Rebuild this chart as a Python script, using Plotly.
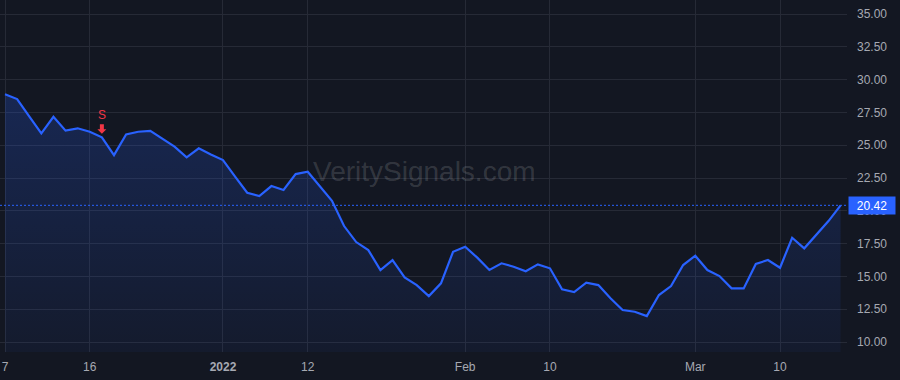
import pandas as pd
import plotly.graph_objects as go

# trading days Dec 7 2021 .. Mar 17 2022 (US market holidays skipped)
holidays = ["2021-12-24", "2022-01-17", "2022-02-21"]
dates = [d.strftime("%Y-%m-%d") for d in pd.bdate_range("2021-12-07", "2022-03-17")
         if d.strftime("%Y-%m-%d") not in holidays]

values = [28.88, 28.52, 27.20, 25.91, 27.17, 26.11, 26.29, 26.03, 25.60, 24.25,
          25.83, 26.03, 26.10, 25.50, 24.89, 24.08, 24.76, 24.30, 23.87, 22.60,
          21.38, 21.13, 21.89, 21.59, 22.80, 22.98, 21.84, 20.77, 18.84, 17.62,
          17.01, 15.49, 16.25, 14.93, 14.34, 13.50, 14.47, 16.88, 17.26, 16.43,
          15.49, 16.00, 15.74, 15.39, 15.92, 15.62, 14.02, 13.81, 14.52, 14.34,
          13.33, 12.44, 12.31, 11.98, 13.58, 14.27, 15.87, 16.58, 15.49, 15.03,
          14.09, 14.09, 15.95, 16.25, 15.66, 17.95, 17.14, 18.21, 19.22, 20.42]

tick_dates = ["2021-12-07", "2021-12-16", "2022-01-03", "2022-01-12",
              "2022-02-01", "2022-02-10", "2022-03-01", "2022-03-10"]
tick_labels = ["7", "16", "<b>2022</b>", "12", "Feb", "10", "Mar", "10"]

y_ticks = [10, 12.5, 15, 17.5, 20, 22.5, 25, 27.5, 30, 32.5, 35]
y_tick_labels = ["10.00", "12.50", "15.00", "17.50", "20.00", "22.50",
                 "25.00", "27.50", "30.00", "32.50", "35.00"]

signal_date = "2021-12-17"
signal_label = "S"
last_value = values[-1]
last_label = "20.42"
watermark = "VeritySignals.com"

BG = "#131722"
GRID = "#262a36"
TXT = "#a6a9b2"
BLUE = "#2962FF"
RED = "#f23645"
FONT = "Liberation Sans, Arial, sans-serif"

fig = go.Figure()
fig.add_trace(go.Scatter(
    x=dates, y=values, mode="lines",
    line=dict(color=BLUE, width=2.2),
    fill="tozeroy",
    fillgradient=dict(type="vertical", start=9.24, stop=29,
                      colorscale=[[0, "rgba(41,98,255,0.05)"], [1, "rgba(41,98,255,0.22)"]]),
    hoverinfo="skip", showlegend=False,
))

fig.add_shape(type="line", xref="paper", x0=0, x1=1, yref="y", y0=last_value, y1=last_value,
              line=dict(color=BLUE, width=1, dash="2px,2px"), layer="above")

sig_idx = dates.index(signal_date)
# down arrow marker above the signal point (pixel-sized, anchored on the data point)
fig.add_shape(type="path", xref="x", yref="y", xsizemode="pixel", ysizemode="pixel",
              xanchor=sig_idx, yanchor=values[sig_idx],
              path="M -2,13 L 2,13 L 2,8 L 4.5,8 L 0,3.5 L -4.5,8 L -2,8 Z",
              fillcolor=RED, line=dict(width=0), layer="above")
fig.add_annotation(x=signal_date, y=values[sig_idx], text=signal_label, showarrow=False,
                   yshift=22, font=dict(color=RED, size=12, family=FONT))

fig.add_annotation(xref="paper", yref="paper", x=0.501, y=0.512, text=watermark,
                   showarrow=False, font=dict(color="rgba(255,255,255,0.15)", size=28, family=FONT))

fig.add_annotation(xref="paper", x=1, xanchor="left", xshift=1, yref="y", y=last_value,
                   yanchor="middle", text=last_label, showarrow=False,
                   bgcolor=BLUE, width=44, height=15, borderpad=1,
                   font=dict(color="white", size=12, family=FONT))

fig.update_layout(
    width=900, height=380,
    margin=dict(l=0, r=53, t=0, b=28),
    paper_bgcolor=BG, plot_bgcolor=BG,
    font=dict(family=FONT, size=12, color=TXT),
    xaxis=dict(type="category", range=[-0.413, 69.53], tickmode="array",
               tickvals=tick_dates, ticktext=tick_labels,
               showgrid=True, gridcolor=GRID, gridwidth=1, zeroline=False,
               showline=False, ticks="", ticklabelstandoff=6,
               tickfont=dict(color=TXT, size=12)),
    yaxis=dict(side="right", range=[9.24, 36.07], tickmode="array",
               tickvals=y_ticks, ticktext=y_tick_labels,
               showgrid=True, gridcolor=GRID, gridwidth=1, zeroline=False,
               showline=False, ticks="", ticklabelstandoff=9,
               tickfont=dict(color=TXT, size=12)),
)

fig.write_html("out.html")
